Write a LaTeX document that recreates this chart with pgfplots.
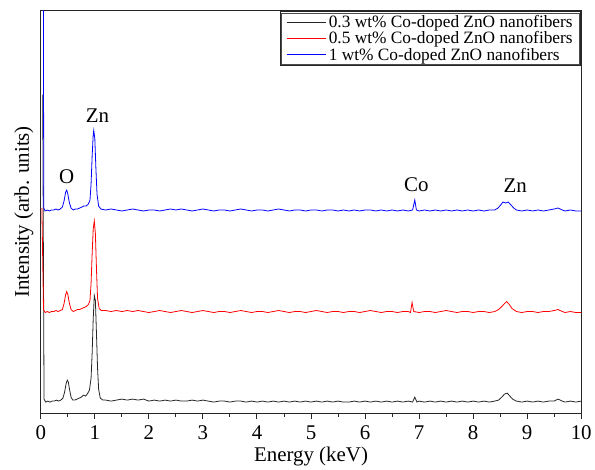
\documentclass[border=0pt]{standalone}
\usepackage{fontspec}
\setmainfont{Liberation Serif}
\usepackage{pgfplots}
\usepackage{pgfplotstable}
\pgfplotsset{compat=1.18}

\pgfplotstableread{
x y
0.035 320
0.06 14
0.09 11
0.13 12
0.17 11
0.21 12
0.25 12
0.29 13
0.33 12
0.37 13
0.41 15
0.44 21
0.47 30
0.49 33
0.51 31
0.53 24
0.56 16
0.59 13
0.63 13
0.67 14
0.71 15
0.75 16
0.79 18
0.83 17
0.87 20
0.90 23
0.93 35
0.95 60
0.97 95
0.99 118
1.01 113
1.03 80
1.05 45
1.07 24
1.10 15
1.15 13
1.2 13
1.3 12
1.4 13
1.5 14
1.6 13
1.7 14
1.8 13
1.9 14
2.0 12
2.1 13
2.2 12
2.3 13
2.4 12
2.5 13
2.6 12
2.7 12
2.8 13
2.9 12
3.0 13
3.1 12
3.2 11
3.3 12
3.4 12
3.5 11
3.6 12
3.7 12
3.8 11
3.9 12
4.0 11
4.1 12
4.2 11
4.3 12
4.4 11
4.5 12
4.6 11
4.7 12
4.8 11
4.9 12
5.0 11
5.1 12
5.2 11
5.3 12
5.4 11
5.5 12
5.6 11
5.7 11
5.8 12
5.9 11
6.0 12
6.1 11
6.2 12
6.3 11
6.4 12
6.5 11
6.6 12
6.7 11
6.8 12
6.88 11
6.92 16
6.96 11
7.0 12
7.1 11
7.2 12
7.3 11
7.4 12
7.5 11
7.6 12
7.7 11
7.8 12
7.9 11
8.0 12
8.1 11
8.2 12
8.3 11
8.4 12
8.47 13
8.53 16
8.58 19
8.63 20
8.68 17
8.73 14
8.8 12
8.9 11
9.0 12
9.1 11
9.2 12
9.3 11
9.4 12
9.5 12
9.57 14
9.65 12
9.7 11
9.8 12
9.9 11
10.0 12
}\blackdata

\pgfplotstableread{
x y
0.02 206
0.05 104
0.08 101
0.12 102
0.16 101
0.20 102
0.24 102
0.28 103
0.32 102
0.36 103
0.40 104
0.43 110
0.46 119
0.48 122
0.50 119
0.53 110
0.56 104
0.60 102
0.64 103
0.68 104
0.72 104
0.76 105
0.80 106
0.84 107
0.88 109
0.91 113
0.93 130
0.95 160
0.97 185
0.99 193
1.01 180
1.03 145
1.05 115
1.08 105
1.12 103
1.2 103
1.3 102
1.4 103
1.5 102
1.6 103
1.7 102
1.8 103
1.9 102
2.0 101
2.1 102
2.2 103
2.3 102
2.4 101
2.5 102
2.6 103
2.7 102
2.8 101
2.9 102
3.0 103
3.1 102
3.2 101
3.3 102
3.4 102
3.5 101
3.6 102
3.7 103
3.8 102
3.9 101
4.0 102
4.1 102
4.2 101
4.3 102
4.4 103
4.5 102
4.6 101
4.7 102
4.8 102
4.9 101
5.0 102
5.1 103
5.2 102
5.3 101
5.4 102
5.5 102
5.6 101
5.7 102
5.8 102
5.9 101
6.0 102
6.1 103
6.2 102
6.3 101
6.4 102
6.5 102
6.6 101
6.7 102
6.8 102
6.84 101
6.87 111
6.90 102
7.0 101
7.1 102
7.2 102
7.3 101
7.4 102
7.5 103
7.6 102
7.7 101
7.8 102
7.9 102
8.0 101
8.1 102
8.2 102
8.3 101
8.4 102
8.47 104
8.53 107
8.58 110
8.62 112
8.67 109
8.72 105
8.8 102
8.9 101
9.0 102
9.1 102
9.2 101
9.3 102
9.4 102
9.5 103
9.57 104
9.65 102
9.7 101
9.8 102
9.9 101
10.0 101
}\reddata

\pgfplotstableread{
x y
0.015 500
0.045 500
0.055 206
0.08 203
0.12 204
0.16 203
0.20 204
0.24 204
0.28 205
0.32 204
0.36 205
0.40 207
0.43 213
0.46 222
0.48 224
0.50 220
0.53 211
0.56 206
0.60 204
0.64 205
0.68 205
0.72 206
0.76 207
0.80 208
0.84 208
0.88 210
0.91 214
0.93 230
0.95 258
0.97 280
0.98 284
1.00 275
1.02 245
1.04 220
1.07 208
1.11 205
1.2 204
1.3 205
1.4 204
1.5 203
1.6 204
1.7 205
1.8 204
1.9 203
2.0 204
2.1 204
2.2 203
2.3 204
2.4 205
2.5 204
2.6 205
2.7 204
2.8 203
2.9 204
3.0 205
3.1 204
3.2 203
3.3 204
3.4 204
3.5 203
3.6 204
3.7 205
3.8 204
3.9 203
4.0 204
4.1 204
4.2 203
4.3 204
4.4 205
4.5 204
4.6 203
4.7 204
4.8 204
4.9 203
5.0 204
5.1 204
5.2 203
5.3 204
5.4 204
5.5 203
5.6 204
5.7 203
5.8 204
5.9 203
6.0 204
6.1 204
6.2 203
6.3 204
6.4 203
6.5 204
6.6 203
6.7 204
6.8 203
6.88 204
6.92 214
6.95 204
7.0 203
7.1 204
7.2 203
7.3 204
7.4 203
7.5 204
7.6 203
7.7 204
7.8 203
7.9 204
8.0 203
8.1 204
8.2 203
8.3 204
8.4 204
8.46 206
8.51 209
8.55 212
8.60 211
8.65 212
8.70 209
8.75 206
8.8 204
8.9 203
9.0 204
9.1 203
9.2 204
9.3 203
9.4 204
9.5 205
9.57 206
9.65 204
9.7 203
9.8 204
9.9 203
10.0 203
}\bluedata

\begin{document}
\begin{tikzpicture}[font=\fontsize{21}{25}\selectfont]
\begin{axis}[
  scale only axis,
  width=543pt, height=404pt,
  xmin=0, xmax=10, ymin=0, ymax=404,
  xtick={0,1,...,10}, minor x tick num=1,
  ytick=\empty,
  xtick pos=bottom,
  tick align=outside,
  major tick length=6pt, minor tick length=3.5pt,
  axis line style={line width=1pt, black!85},
  every tick/.style={line width=1pt, black!85},
  /pgf/number format/assume math mode=true,
  xticklabel style={yshift=-3pt},
  xlabel={Energy (keV)},
  ylabel={Intensity (arb. units)},
  xlabel style={yshift=-1pt},
  ylabel style={yshift=-2pt},
  legend cell align=left,
  legend style={name=leg, at={(1,1)}, anchor=north east,
    draw=black!85, line width=1.2pt, inner xsep=6pt, inner ysep=2pt,
    font=\fontsize{17.4}{18}\selectfont, row sep=-1.5pt},
  legend image code/.code={\draw[#1] (0pt,0pt) -- (40pt,0pt);},
]
\addplot[black!85, line width=0.8pt] table[x=x, y=y] {\blackdata};
\addlegendentry{0.3 wt\% Co-doped ZnO nanofibers}
\addplot[red, line width=0.8pt] table[x=x, y=y] {\reddata};
\addlegendentry{0.5 wt\% Co-doped ZnO nanofibers}
\addplot[blue, line width=0.8pt] table[x=x, y=y] {\bluedata};
\addlegendentry{1 wt\% Co-doped ZnO nanofibers}
\node at (axis cs:0.48,237) {O};
\node at (axis cs:1.05,299) {Zn};
\node at (axis cs:6.95,229) {Co};
\node at (axis cs:8.78,228) {Zn};
\end{axis}
\draw[black!70, line width=0.4pt] ([shift={(2pt,2pt)}]leg.south west) rectangle ([shift={(-2pt,-2pt)}]leg.north east);
\path ([shift={(-41pt,-53pt)}]current axis.south west) rectangle ([shift={(11pt,11pt)}]current axis.north east);
\end{tikzpicture}
\end{document}
